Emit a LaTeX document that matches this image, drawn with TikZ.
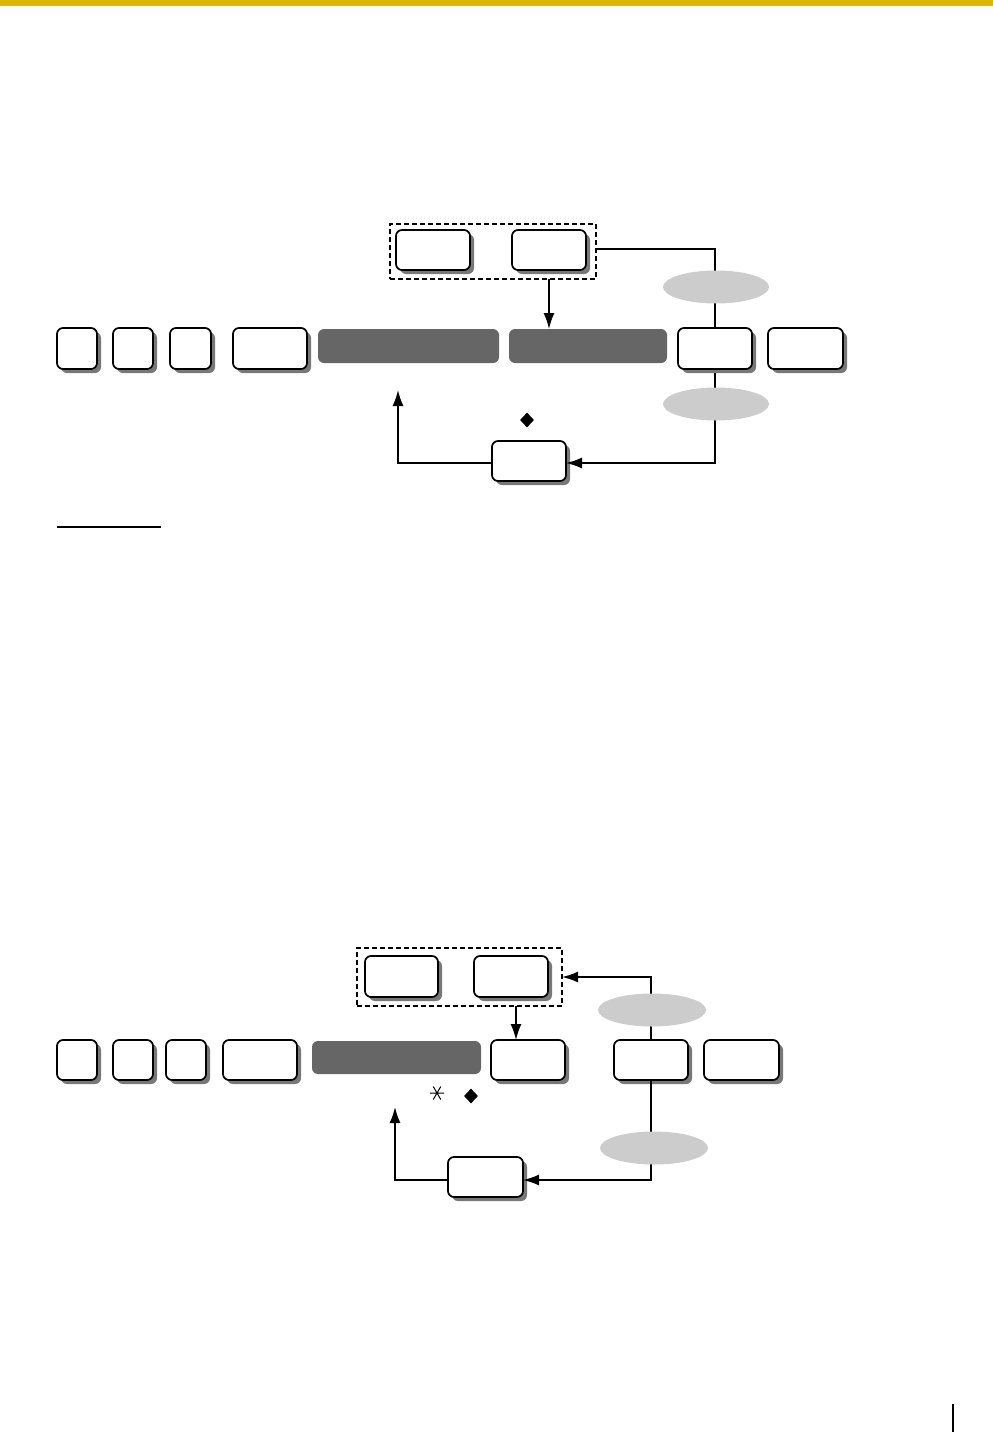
\documentclass[tikz,border=0pt]{standalone}
\usetikzlibrary{shadows,shapes.geometric,arrows.meta,calc,backgrounds}
\definecolor{topbar}{RGB}{222,182,0}
\definecolor{barfill}{RGB}{102,102,102}
\definecolor{ellfill}{RGB}{204,204,204}
\definecolor{shadowc}{RGB}{120,120,120}
\tikzset{
  btn/.style={draw=black, line width=1.7pt, fill=white, rounded corners=6pt,
    inner sep=0pt, outer sep=0pt, minimum height=40pt,
    drop shadow={shadow xshift=4pt, shadow yshift=-4pt, fill=shadowc, opacity=1}},
  darkbar/.style={fill=barfill, rounded corners=6pt, inner sep=0pt, outer sep=0pt, minimum height=34pt},
  grayell/.style={ellipse, fill=ellfill, inner sep=0pt, outer sep=0pt, minimum width=106pt, minimum height=33pt},
  dashbox/.style={draw=black, line width=1.4pt, dash pattern=on 5pt off 3pt, inner sep=0pt, outer sep=0pt},
  conn/.style={line width=1.6pt},
  arr/.style={line width=1.6pt, -{Latex[length=16pt,width=11pt]}},
  dmd/.style={diamond, fill=black, inner sep=0pt, minimum width=14pt, minimum height=15pt}
}
\begin{document}
\begin{tikzpicture}[x=1pt,y=-1pt]
\useasboundingbox (0,0) rectangle (993,1432);
\fill[topbar] (0,0) rectangle (993,6);

% ---------- Diagram 1 ----------
\node[dashbox, minimum width=206pt, minimum height=55pt] (dash1) at (493,251.5) {};
\node[btn, minimum width=74pt] (t1a) at (433,250) {};
\node[btn, minimum width=74pt] (t1b) at (549,250) {};

\node[btn, minimum width=40pt, minimum height=41pt] (r1a) at (77,348.5) {};
\node[btn, minimum width=40pt, minimum height=41pt] (r1b) at (133,348.5) {};
\node[btn, minimum width=41pt, minimum height=41pt] (r1c) at (190.5,348.5) {};
\node[btn, minimum width=74pt, minimum height=41pt] (r1d) at (270,348.5) {};
\node[darkbar, minimum width=181pt] (bar1) at (408.5,346) {};
\node[darkbar, minimum width=158pt] (bar2) at (588,346) {};
\node[btn, minimum width=74pt, minimum height=41pt] (r1e) at (715,348.5) {};
\node[btn, minimum width=75pt, minimum height=41pt] (r1f) at (805.5,348.5) {};

\node[btn, minimum width=74pt] (b1) at (529,461) {};
\coordinate (c1) at (398,390);

\begin{scope}[on background layer]
\draw[conn] (dash1.east |- 0,249) -| (r1e.north);
\draw[conn] (r1e.south) -- (r1e.south |- 0,400);
\end{scope}
\draw[arr] (dash1.south -| t1b) -- (bar2.north -| t1b);
\draw[arr] (r1e.south |- 0,400) |- ($(b1.east)+(0,2)$);
\draw[arr] ($(b1.west)+(0,2)$) -| (c1);

\node[grayell] (e1) at (716,287) {};
\node[grayell] (e2) at (716,404) {};
\node[dmd] (d1) at (527,420) {};

\draw[line width=1.3pt] (57,527) -- (161,527);

% ---------- Diagram 2 ----------
\node[dashbox, minimum width=205pt, minimum height=58pt] (dash2) at (459.5,977) {};
\node[btn, minimum width=73pt, minimum height=41pt] (t2a) at (401.5,976.5) {};
\node[btn, minimum width=74pt, minimum height=41pt] (t2b) at (511,976.5) {};

\node[btn, minimum width=40pt] (r2a) at (77,1060) {};
\node[btn, minimum width=40pt] (r2b) at (133,1060) {};
\node[btn, minimum width=40pt] (r2c) at (186,1060) {};
\node[btn, minimum width=74pt] (r2d) at (260,1060) {};
\node[darkbar, minimum width=169pt, minimum height=33pt] (bar3) at (396.5,1057.5) {};
\node[btn, minimum width=74pt] (r2e) at (528,1060) {};
\node[btn, minimum width=74pt] (r2f) at (651,1060) {};
\node[btn, minimum width=75pt] (r2g) at (741.5,1060) {};

\node[btn, minimum width=75pt] (b2) at (485.5,1177) {};
\coordinate (c2) at (395,1107);
\coordinate (c3) at (516,0);

\draw[arr] (r2f.north) |- (dash2.east |- 0,977);
\draw[arr] (dash2.south -| c3) -- (r2e.north -| c3);
\draw[arr] (r2f.south) |- ($(b2.east)+(0,3)$);
\draw[arr] ($(b2.west)+(0,3)$) -| (c2);

\node[grayell, minimum width=108pt] (e3) at (652,1010) {};
\node[grayell, minimum width=108pt] (e4) at (654,1148) {};

\node[dmd] (d2) at (471,1096) {};
\draw[line width=1pt] (437,1093) ++(-7,0) -- ++(14,0)
  (437,1093) ++(60:7.5) -- ++(240:15)
  (437,1093) ++(120:7.5) -- ++(300:15);

% page mark
\draw[line width=2pt] (953,1404) -- (953,1432);
\end{tikzpicture}
\end{document}
